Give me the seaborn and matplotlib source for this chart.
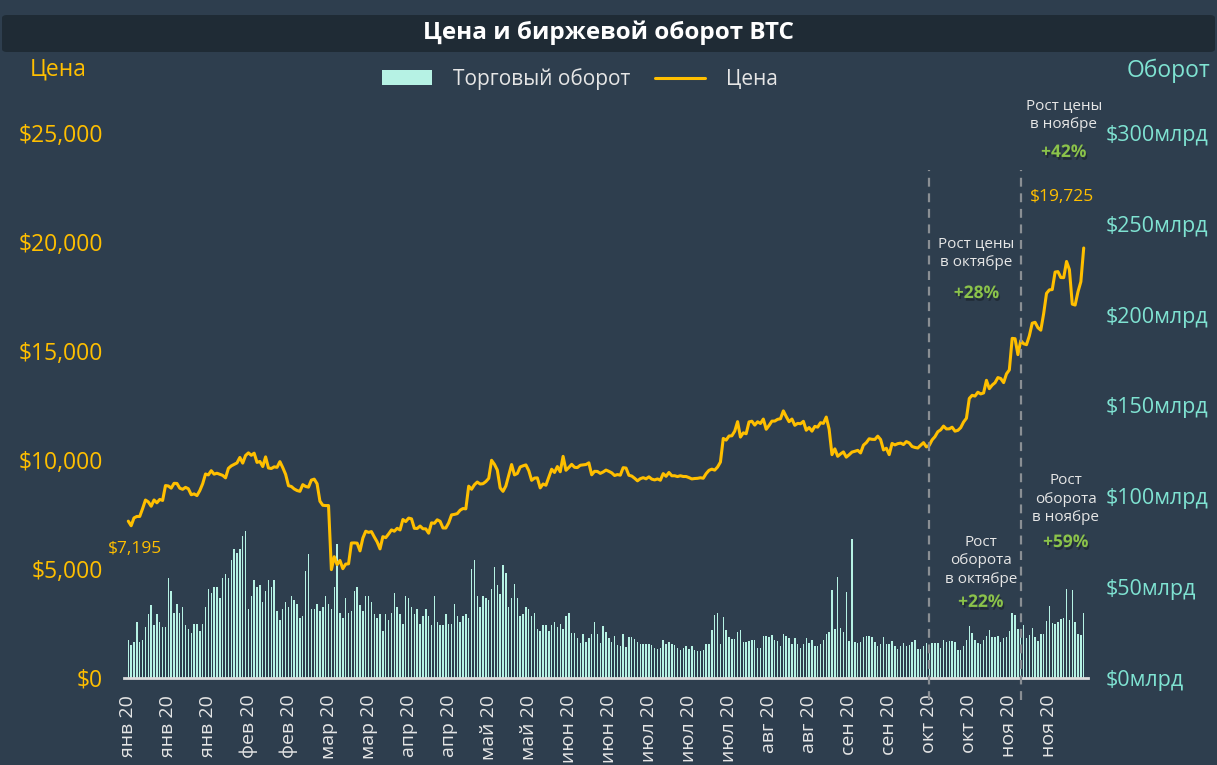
import numpy as np
import pandas as pd
import matplotlib
matplotlib.use('Agg')
import matplotlib.pyplot as plt
import matplotlib.patheffects as pe
from matplotlib.patches import FancyBboxPatch, Patch
from matplotlib.lines import Line2D
import seaborn as sns

# BTC daily close price, USD (2020)
price_jan = [7195, 6985, 7345, 7410, 7411, 7769, 8163, 8079, 7879, 8166, 8037, 8192, 8145, 8828, 8808,
             8709, 8930, 8924, 8706, 8657, 8745, 8681, 8407, 8445, 8368, 8596, 8910, 9358, 9317, 9509, 9351]
price_feb = [9393, 9346, 9294, 9181, 9618, 9730, 9796, 9866, 10117, 9857, 10208, 10327, 10215, 10313, 9890,
             9934, 9699, 10143, 9634, 9609, 9687, 9663, 9925, 9651, 9342, 8820, 8785, 8672, 8600]
price_mar = [8563, 8869, 8787, 8755, 9078, 9122, 8910, 8108, 7923, 7909, 7911, 4971, 5563, 5200, 5392,
             5014, 5225, 5238, 6191, 6198, 6186, 5831, 6416, 6734, 6681, 6716, 6469, 6243, 5922, 6483, 6438]
price_apr = [6607, 6793, 6733, 6867, 6792, 7271, 7176, 7334, 7302, 6866, 6859, 6971, 6845, 6842, 6642,
             7117, 7096, 7257, 7189, 6882, 6880, 7118, 7482, 7505, 7539, 7697, 7774, 7759, 8801, 8658]
price_may = [8864, 8989, 8898, 8913, 9011, 9158, 9986, 9801, 9540, 8722, 8562, 8810, 9310, 9792, 9317,
             9381, 9680, 9733, 9775, 9512, 9068, 9170, 9180, 8720, 8900, 8842, 9205, 9576, 9428, 9700, 9461]
price_jun = [10167, 9529, 9657, 9800, 9665, 9653, 9759, 9775, 9793, 9870, 9321, 9480, 9475, 9386, 9450,
             9538, 9480, 9411, 9289, 9332, 9303, 9648, 9630, 9300, 9264, 9162, 9045, 9143, 9190, 9137]
price_jul = [9228, 9123, 9087, 9132, 9073, 9375, 9252, 9428, 9277, 9278, 9240, 9277, 9243, 9243, 9192,
             9132, 9151, 9159, 9185, 9164, 9374, 9525, 9581, 9536, 9677, 9905, 10990, 10912, 11100, 11111, 11323]
price_aug = [11759, 11053, 11246, 11205, 11747, 11779, 11601, 11754, 11675, 11878, 11410, 11584, 11784, 11786, 11866,
             11892, 12254, 11991, 11758, 11878, 11592, 11681, 11664, 11774, 11366, 11488, 11323, 11542, 11507, 11711, 11680]
price_sep = [11970, 11414, 10245, 10511, 10169, 10280, 10370, 10131, 10242, 10364, 10400, 10442, 10324, 10681, 10796,
             10974, 10948, 10944, 11094, 10938, 10462, 10539, 10246, 10760, 10692, 10750, 10775, 10709, 10844, 10784]
price_oct = [10619, 10576, 10550, 10677, 10796, 10602, 10669, 10923, 11071, 11296, 11384, 11555, 11425, 11430, 11505,
             11323, 11359, 11484, 11742, 11916, 12823, 12966, 12932, 13109, 13031, 13075, 13655, 13272, 13437, 13546, 13781]
price_nov = [13737, 13550, 13950, 14133, 15579, 15565, 14833, 15479, 15332, 15290, 15701, 16276, 16317, 16068, 15955,
             16716, 17645, 17804, 17817, 18621, 18642, 18370, 18364, 19107, 18732, 17150, 17108, 17718, 18177, 19725]

# exchange volume, billions USD
vol_jan = [21, 18, 20, 31, 20, 21, 28, 35, 40, 29, 35, 31, 28, 28, 55, 48, 36, 41, 36, 39,
           29, 27, 25, 30, 30, 26, 30, 39, 49, 47, 50]
vol_feb = [50, 44, 55, 57, 55, 65, 71, 69, 71, 78, 81, 38, 45, 54, 50, 51, 42, 48, 54, 50,
           54, 37, 32, 38, 42, 39, 45, 43, 41]
vol_mar = [33, 34, 59, 68, 38, 38, 41, 37, 39, 45, 41, 38, 50, 74, 36, 33, 44, 36, 37, 48,
           50, 40, 37, 45, 45, 42, 35, 33, 35, 26, 35]
vol_apr = [32, 36, 47, 39, 35, 30, 45, 44, 39, 35, 38, 30, 34, 38, 34, 29, 45, 31, 29, 29,
           35, 30, 30, 41, 34, 31, 34, 35, 33, 60]
vol_may = [65, 45, 39, 45, 44, 43, 49, 61, 51, 46, 62, 58, 39, 44, 52, 44, 34, 35, 39, 38,
           34, 36, 27, 26, 29, 29, 26, 29, 31, 28, 30]
vol_jun = [27, 34, 36, 25, 25, 22, 19, 24, 20, 22, 24, 31, 24, 19, 28.4, 25.5, 22.2, 19.6, 22.9, 18.3,
           17.8, 24.0, 17.0, 22.3, 22.3, 21.4, 20.0, 18.5, 18.7, 18.7]
vol_jul = [18.5, 18.1, 16.7, 15.9, 16.3, 21.1, 18.9, 19.6, 18.5, 18.1, 16.3, 15.2, 16.5, 17.8, 15.9,
           17.8, 15.6, 14.8, 14.8, 15.6, 18.9, 18.5, 26.2, 34.6, 35.9, 18.9, 33.7, 26.6, 22.5, 21.4, 21.4]
vol_aug = [25.1, 26.6, 19.6, 19.6, 20.3, 20.7, 20.7, 16.3, 16.3, 22.9, 23.3, 22.5, 23.6, 20.7, 20.3,
           17.8, 24.4, 23.3, 22.2, 18.9, 22.2, 18.5, 16.7, 18.9, 22.2, 19.2, 20.7, 17.8, 17.4, 18.9, 20.7]
vol_sep = [24.0, 25.1, 48.5, 26.9, 55.5, 27.7, 25.5, 47.1, 20.3, 76.7, 20.0, 19.2, 20.0, 22.5, 22.9,
           23.3, 22.5, 19.6, 17.4, 18.9, 22.5, 18.9, 18.9, 20.3, 17.8, 15.9, 17.4, 19.4, 17.8, 17.9]
vol_oct = [20.0, 20.9, 15.8, 15.8, 17.8, 19.2, 17.4, 19.0, 19.0, 19.4, 16.7, 20.7, 19.6, 20.1, 20.1,
           20.0, 15.6, 15.4, 17.8, 21.1, 28.8, 24.5, 20.9, 19.2, 18.5, 21.1, 23.3, 26.4, 22.7, 22.3, 22.9]
vol_nov = [19.6, 22.0, 22.3, 25.8, 35.9, 34.8, 26.9, 25.5, 29.1, 22.2, 23.6, 27.5, 22.7, 20.1, 24.4,
           24.2, 31.3, 39.7, 30.4, 29.9, 30.6, 32.4, 32.8, 48.9, 31.7, 48.2, 30.6, 24.2, 23.6, 35.7]

month_names = ['янв', 'фев', 'мар', 'апр', 'май', 'июн', 'июл', 'авг', 'сен', 'окт', 'ноя']
divider_dates = ['2020-10-07', '2020-11-08']

price = price_jan + price_feb + price_mar + price_apr + price_may + price_jun + \
    price_jul + price_aug + price_sep + price_oct + price_nov
volume = vol_jan + vol_feb + vol_mar + vol_apr + vol_may + vol_jun + \
    vol_jul + vol_aug + vol_sep + vol_oct + vol_nov

dates = pd.date_range('2020-01-01', periods=len(price), freq='D')
df = pd.DataFrame({'day': np.arange(len(dates)), 'price': price, 'volume': volume})

BG = '#2e3e4e'
BAR_BG = '#1f2b35'
GOLD = '#ffbf00'
BAR = '#b6f2e4'
CYAN = '#7fe3d2'
TEXT = '#e6e6e6'
GREEN = '#8bc34a'

sns.set_theme(style='dark')
plt.rcParams['font.family'] = ['Open Sans', 'DejaVu Sans']

W, H = 1217, 765
fig = plt.figure(figsize=(W / 100, H / 100), dpi=100, facecolor=BG)

# title bar
fig.patches.append(FancyBboxPatch((2 / W, 1 - 52 / H), 1 - 4 / W, 37 / H,
                                  boxstyle='round,pad=0,rounding_size=0.004',
                                  transform=fig.transFigure, facecolor=BAR_BG, edgecolor='none'))
fig.text(0.5, 1 - 33 / H, 'Цена и биржевой оборот BTC', ha='center', va='center',
         color='white', fontsize=17.5, fontweight='bold')

ax = fig.add_axes([124 / W, 87 / H, 964 / W, 545 / H])
ax.set_facecolor(BG)
sns.barplot(data=df, x='day', y='volume', color=BAR, saturation=1, width=0.5,
            errorbar=None, native_scale=True, linewidth=0, edgecolor='none', ax=ax)

ax2 = ax.twinx()
sns.lineplot(data=df, x='day', y='price', color=GOLD, linewidth=2.2, ax=ax2)

ax.set_xlim(-1.5, 335.5)
ax.set_ylim(0, 300)
ax2.set_ylim(0, 25000)

# x ticks every two weeks
tick_idx = np.arange(0, len(dates), 14)
ax.set_xticks(tick_idx)
ax.set_xticklabels([f'{month_names[dates[i].month - 1]} 20' for i in tick_idx],
                   rotation=90, color=TEXT, fontsize=14)

ax.yaxis.tick_right()
ax.set_yticks(range(0, 301, 50))
ax.set_yticklabels([f'${v}млрд' for v in range(0, 301, 50)], color=CYAN, fontsize=15.5)
ax2.yaxis.tick_left()
ax2.set_yticks(range(0, 25001, 5000))
ax2.set_yticklabels([f'${v:,}' for v in range(0, 25001, 5000)], color=GOLD, fontsize=16.5)

ax.tick_params(axis='x', length=0, pad=12)
ax.tick_params(axis='y', length=0, pad=13)
ax2.tick_params(axis='y', length=0, pad=15)
for a in (ax, ax2):
    a.set_xlabel('')
    a.set_ylabel('')
    a.grid(False)
    for s in a.spines.values():
        s.set_visible(False)
ax.spines['bottom'].set_visible(True)
ax.spines['bottom'].set_color('#dcdcdc')
ax.spines['bottom'].set_linewidth(2)

# month dividers
for d in divider_dates:
    xd = (pd.Timestamp(d) - dates[0]).days
    ax2.plot([xd, xd], [-1000, 23300], color='#8a8f94', lw=1.6, ls=(0, (4, 3)), clip_on=False)

# axis titles
fig.text(58 / W, 1 - 69 / H, 'Цена', color=GOLD, fontsize=16.5, ha='center', va='center')
fig.text(1169 / W, 1 - 71 / H, 'Оборот', color=CYAN, fontsize=16.5, ha='center', va='center')

# price labels
ax2.text(2.3, 5920, f'${price[0]:,}', color=GOLD, fontsize=12.5, ha='center', va='center', clip_on=False)
ax2.text(326.3, 22060, f'${price[-1]:,}', color=GOLD, fontsize=12.5, ha='center', va='center', clip_on=False)

shadow = [pe.withSimplePatchShadow(offset=(1, -2), shadow_rgbFace='black', alpha=0.3)]
notes = [
    (327, 25830, 'Рост цены\nв ноябре', 24130, '+42%'),
    (296.5, 19500, 'Рост цены\nв октябре', 17660, '+28%'),
    (327.7, 8210, 'Рост\nоборота\nв ноябре', 6240, '+59%'),
    (298, 5370, 'Рост\nоборота\nв октябре', 3490, '+22%'),
]
for xn, yn, txt, yp, pct in notes:
    ax2.text(xn, yn, txt, color=TEXT, fontsize=11, ha='center', va='center',
             linespacing=1.3, clip_on=False)
    ax2.text(xn, yp, pct, color=GREEN, fontsize=12.5, fontweight='bold', ha='center',
             va='center', clip_on=False, path_effects=shadow)

handles = [Patch(facecolor=BAR, edgecolor='none'), Line2D([0], [0], color=GOLD, lw=2.2)]
fig.legend(handles, ['Торговый оборот', 'Цена'], loc='center', bbox_to_anchor=(580 / W, 1 - 79 / H),
           ncol=2, frameon=False, fontsize=15, labelcolor=TEXT, handlelength=2.4,
           handletextpad=1.0, columnspacing=1.2)

fig.savefig('out.png', dpi=100, facecolor=BG)
